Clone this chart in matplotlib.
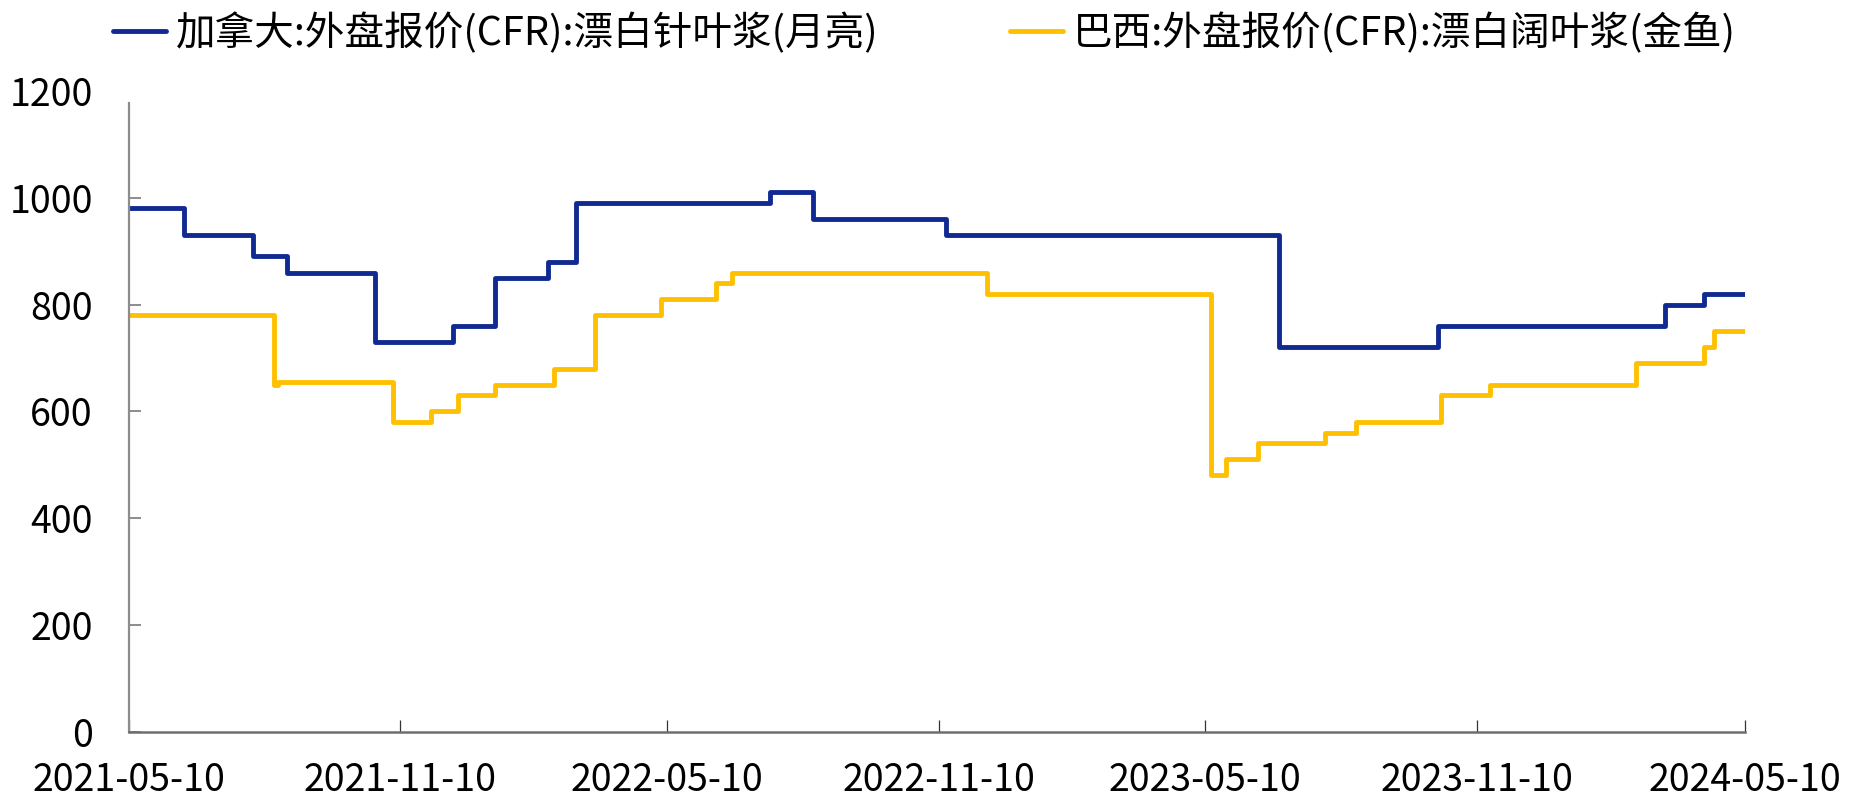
import pandas as pd
import matplotlib as mpl
mpl.use('Agg')
import matplotlib.pyplot as plt
import matplotlib.dates as mdates

plt.rcParams['font.family'] = ['Noto Sans CJK SC', 'DejaVu Sans']
plt.rcParams['axes.unicode_minus'] = False

# Price change dates (step series) and values, USD/t
canada_dates = ['2021-05-10', '2021-06-16', '2021-08-02', '2021-08-25', '2021-10-24',
                '2021-12-16', '2022-01-13', '2022-02-18', '2022-03-09', '2022-07-19',
                '2022-08-17', '2022-11-15', '2023-06-29', '2023-10-15', '2024-03-17',
                '2024-04-12', '2024-05-10']
canada_vals = [980, 930, 890, 860, 730, 760, 850, 880, 990, 1010,
               960, 930, 720, 760, 800, 820, 820]

brazil_dates = ['2021-05-10', '2021-08-16', '2021-08-19', '2021-11-05', '2021-12-01',
                '2021-12-19', '2022-01-13', '2022-02-22', '2022-03-22', '2022-05-06',
                '2022-06-12', '2022-06-23', '2022-12-13', '2023-05-14', '2023-05-24',
                '2023-06-15', '2023-07-30', '2023-08-20', '2023-10-17', '2023-11-19',
                '2024-02-26', '2024-04-12', '2024-04-19', '2024-05-10']
brazil_vals = [780, 650, 655, 580, 600, 630, 650, 680, 780, 810, 840, 860,
               820, 480, 510, 540, 560, 580, 630, 650, 690, 720, 750, 750]

labels = ['加拿大:外盘报价(CFR):漂白针叶浆(月亮)', '巴西:外盘报价(CFR):漂白阔叶浆(金鱼)']
colors = ['#102A91', '#FFC000']

x_ticks = ['2021-05-10', '2021-11-10', '2022-05-10', '2022-11-10',
           '2023-05-10', '2023-11-10', '2024-05-10']
y_ticks = [0, 200, 400, 600, 800, 1000, 1200]

fig = plt.figure(figsize=(18.57, 7.98), dpi=100)
ax = fig.add_axes([0.0695, 0.0831, 0.8702, 0.8029])

series = [(canada_dates, canada_vals), (brazil_dates, brazil_vals)]
for (d, v), lab, c in zip(series, labels, colors):
    ax.plot(pd.to_datetime(d), v, drawstyle='steps-post', color=c, lw=3.5,
            label=lab, solid_capstyle='round', solid_joinstyle='round')

ax.set_xlim(pd.Timestamp('2021-05-10'), pd.Timestamp('2024-05-10'))
ax.set_ylim(0, 1200)
ax.set_xticks(pd.to_datetime(x_ticks))
ax.xaxis.set_major_formatter(mdates.DateFormatter('%Y-%m-%d'))
ax.set_yticks(y_ticks)

for s in ['top', 'right']:
    ax.spines[s].set_visible(False)
ax.spines['left'].set_color('#8c8c8c')
ax.spines['left'].set_linewidth(1.6)
ax.spines['left'].set_bounds(0, 1178)
ax.spines['bottom'].set_color('#6e6e6e')
ax.spines['bottom'].set_linewidth(1.8)

ax.tick_params(axis='y', direction='in', length=8.5, width=1.4, color='#8c8c8c',
               labelsize=27, pad=26)
ax.tick_params(axis='x', direction='in', length=8.5, width=0.9, color='#333333',
               labelsize=27, pad=21)
ax.yaxis.get_major_ticks()[-1].tick1line.set_visible(False)

# legend across the top, first handle starting near the left edge
fig.legend(loc='center left', bbox_to_anchor=(113 / 1857., 0.958), ncol=2, frameon=False,
           fontsize=28.5, handlelength=1.35, handletextpad=0.25, columnspacing=3.3,
           borderpad=0, borderaxespad=0)

fig.savefig('out.png', dpi=100)
